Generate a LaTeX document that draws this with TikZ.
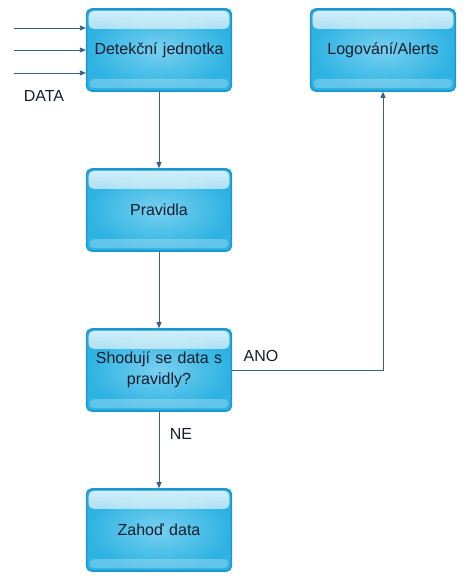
\documentclass[tikz,border=0pt]{standalone}
\usepackage{fontspec}
\setmainfont{Liberation Sans}
\usetikzlibrary{arrows.meta,calc,fadings}
\definecolor{boxfill}{RGB}{45,178,226}
\definecolor{boxedge}{RGB}{28,150,210}
\definecolor{boxlight}{RGB}{120,208,240}
\definecolor{linec}{RGB}{55,95,135}
\definecolor{txt}{RGB}{20,30,45}
\begin{document}
\begin{tikzpicture}[x=1pt,y=-1pt,
  flowbox/.style={rectangle, rounded corners=5pt, minimum width=140pt, minimum height=82pt,
    draw=boxedge, line width=1.6pt, inner color=boxlight, outer color=boxfill,
    text width=138pt, align=center, text=txt, font=\fontsize{16}{21}\selectfont,
    path picture={
      \fill[white, path fading=south, opacity=0.8, rounded corners=5pt]
        ($(path picture bounding box.north west)+(2pt,-2pt)$) rectangle
        ($(path picture bounding box.north east)+(-2pt,-20pt)$);
      \fill[white, opacity=0.25, rounded corners=4pt]
        ($(path picture bounding box.south west)+(3pt,3pt)$) rectangle
        ($(path picture bounding box.south east)+(-3pt,12pt)$);
    }},
  conn/.style={draw=linec, line width=0.8pt, -{Triangle[length=6pt,width=5pt]}},
  lbl/.style={text=txt, font=\fontsize{16}{19}\selectfont}]
\useasboundingbox (0,0) rectangle (465,585);
\node[flowbox] (det) at (159,50) {Detekční jednotka};
\node[flowbox] (prav) at (159,210) {Pravidla};
\node[flowbox] (shod) at (159,370) {Shodují se data s\\pravidly?};
\node[flowbox] (zah) at (159,530) {Zahoď data};
\node[flowbox] (log) at (383,50) {Logování/Alerts};
\coordinate (i1) at (14,28);
\coordinate (i2) at (14,50);
\coordinate (i3) at (14,73);
\draw[conn] (i1) -- (i1 -| det.west);
\draw[conn] (i2) -- (i2 -| det.west);
\draw[conn] (i3) -- (i3 -| det.west);
\node[lbl] (data) at (44,96) {DATA};
\draw[conn] (det) -- (prav);
\draw[conn] (prav) -- (shod);
\draw[conn] (shod) -- (zah);
\draw[conn] (shod.east) -| (log.south);
\node[lbl] (ano) at (261,356) {ANO};
\node[lbl] (ne) at (181,434) {NE};
\end{tikzpicture}
\end{document}
